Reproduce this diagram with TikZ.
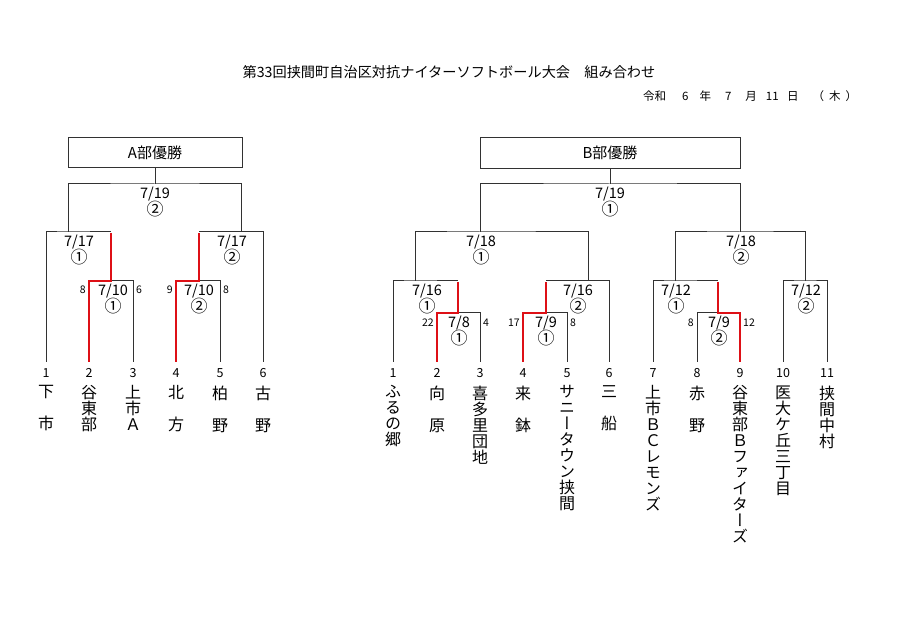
\documentclass[tikz,border=0pt]{standalone}
\usepackage{fontspec}
\setmainfont{Noto Sans CJK JP}
\newfontfamily\jpv[RawFeature=+vert]{Noto Sans CJK JP}
\usepackage{xcolor}
\usetikzlibrary{positioning}

\definecolor{winred}{RGB}{222,16,22}
\definecolor{linegray}{RGB}{50,50,50}

% field number, a bit larger than the date
\newcommand{\fieldno}[1]{\smash{\fontsize{17}{17}\selectfont #1}}

\begin{document}
\begin{tikzpicture}[
    x=1pt,
    y=-1pt,
    line/.style={
        draw=linegray,
        line width=1pt
    },
    win/.style={
        draw=winred,
        line width=2.8pt
    },
    title/.style={
        font=\fontsize{14.2}{16}\selectfont,
        inner sep=0pt
    },
    champ/.style={
        rectangle,
        draw=linegray,
        line width=1pt,
        font=\fontsize{15}{16}\selectfont
    },
    match/.style={
        align=center,
        font=\fontsize{14.5}{16.5}\selectfont,
        inner sep=0pt,
        anchor=north
    },
    score/.style={
        font=\fontsize{10.5}{11}\selectfont,
        inner sep=1pt
    },
    seed/.style={
        anchor=north,
        font=\fontsize{12.5}{14}\selectfont,
        text height=9pt,
        text depth=0pt,
        inner xsep=0pt,
        inner ysep=6.5pt
    },
    team/.style={
        align=center,
        font=\fontsize{16}{16}\selectfont\jpv,
        inner sep=0pt,
        anchor=north
    }
]
\useasboundingbox (0,0) rectangle (900,636);

% Title
\node [title] (head) at (449,72) {第33回挟間町自治区対抗ナイターソフトボール大会\quad 組み合わせ};
\node [title, anchor=west, font=\fontsize{11.5}{14}\selectfont] (day) at (643,96)
    {令和\hspace{16pt}6\hspace{11pt}年\hspace{14pt}7\hspace{14pt}月\hspace{9pt}11\hspace{8.5pt}日\hspace{14pt}（\hspace{5pt}木\hspace{5pt}）};

% Champion boxes
\node [champ, minimum width=174, minimum height=30] (boxa) at (155,153) {A部優勝};
\node [champ, minimum width=260, minimum height=31] (boxb) at (610,153) {B部優勝};

% A: teams
\node [seed] (a1) at (46,362) {1};
\node [seed] (a2) at (89,362) {2};
\node [seed] (a3) at (133,362) {3};
\node [seed] (a4) at (176,362) {4};
\node [seed] (a5) at (220,362) {5};
\node [seed] (a6) at (263,362) {6};
\node [team, below=1pt of a1] (a1n) {下\\　\\市};
\node [team, below=1pt of a2] (a2n) {谷\\東\\部};
\node [team, below=1pt of a3] (a3n) {上\\市\\Ａ};
\node [team, below=1pt of a4] (a4n) {北\\　\\方};
\node [team, below=1pt of a5] (a5n) {柏\\　\\野};
\node [team, below=1pt of a6] (a6n) {古\\　\\野};

% B: teams
\node [seed] (b1) at (393,362) {1};
\node [seed] (b2) at (437,362) {2};
\node [seed] (b3) at (480,362) {3};
\node [seed] (b4) at (523,362) {4};
\node [seed] (b5) at (567,362) {5};
\node [seed] (b6) at (609,362) {6};
\node [seed] (b7) at (653,362) {7};
\node [seed] (b8) at (697,362) {8};
\node [seed] (b9) at (740,362) {9};
\node [seed] (b10) at (783,362) {10};
\node [seed] (b11) at (827,362) {11};
\node [team, below=1pt of b1] (b1n) {ふ\\る\\の\\郷};
\node [team, below=1pt of b2] (b2n) {向\\　\\原};
\node [team, below=1pt of b3] (b3n) {喜\\多\\里\\団\\地};
\node [team, below=1pt of b4] (b4n) {来\\　\\鉢};
\node [team, below=1pt of b5] (b5n) {サ\\ニ\\ー\\タ\\ウ\\ン\\挟\\間};
\node [team, below=1pt of b6] (b6n) {三\\　\\船};
\node [team, below=1pt of b7] (b7n) {上\\市\\Ｂ\\Ｃ\\レ\\モ\\ン\\ズ};
\node [team, below=1pt of b8] (b8n) {赤\\　\\野};
\node [team, below=1pt of b9] (b9n) {谷\\東\\部\\Ｂ\\フ\\ァ\\イ\\タ\\ー\\ズ};
\node [team, below=1pt of b10] (b10n) {医\\大\\ケ\\丘\\三\\丁\\目};
\node [team, below=1pt of b11] (b11n) {挟\\間\\中\\村};

% Junctions
\coordinate (fa) at (155,184);
\coordinate (sa1) at (68,232);
\coordinate (sa2) at (241,232);
\coordinate (qa1) at (111,281);
\coordinate (qa2) at (199,281);
\coordinate (fb) at (610,184);
\coordinate (sb1) at (480,232);
\coordinate (sb2) at (740,232);
\coordinate (qb1) at (415,281);
\coordinate (qb2) at (588,281);
\coordinate (qb3) at (675,281);
\coordinate (qb4) at (805,281);
\coordinate (rb1) at (458,313);
\coordinate (rb2) at (546,313);
\coordinate (rb3) at (718,313);

% A: lines
\path [line] (boxa.south) -- (fa);
\path [line] (sa1) |- (fa) -| (sa2);
\path [line] (a1.north) |- (sa1) -- (sa1 -| qa1);
\path [line] (qa1) -| (a3.north);
\path [line] (qa2 |- sa2) -| (a6.north);
\path [line] (qa2) -| (a5.north);
\path [win] (a2.north) |- (qa1) -- ([yshift=-1]qa1 |- sa1);
\path [win] (a4.north) |- (qa2) -- ([yshift=-1]qa2 |- sa2);

% B: lines
\path [line] (boxb.south) -- (fb);
\path [line] (sb1) |- (fb) -| (sb2);
\path [line] (qb1) |- (sb1) -| (qb2);
\path [line] (qb3) |- (sb2) -| (qb4);
\path [line] (b1.north) |- (qb1) -- (qb1 -| rb1);
\path [line] (rb1) -| (b3.north);
\path [line] (rb2 |- qb2) -| (b6.north);
\path [line] (rb2) -| (b5.north);
\path [line] (b7.north) |- (qb3) -- (qb3 -| rb3);
\path [line] (rb3) -| (b8.north);
\path [line] (b10.north) |- (qb4) -| (b11.north);
\path [win] (b2.north) |- (rb1) -- ([yshift=-1]rb1 |- qb1);
\path [win] (b4.north) |- (rb2) -- ([yshift=-1]rb2 |- qb2);
\path [win] (b9.north) |- (rb3) -- ([yshift=-1]rb3 |- qb3);

% A: dates and fields
\node [match] (ma0) at (155,187) {7/19\\\fieldno{②}};
\node [match] (ma1) at (79,235) {7/17\\\fieldno{①}};
\node [match] (ma2) at (232,235) {7/17\\\fieldno{②}};
\node [match] (ma3) at (113,284) {7/10\\\fieldno{①}};
\node [match] (ma4) at (199,284) {7/10\\\fieldno{②}};
\node [score, anchor=east] (sc1) at (87,290) {8};
\node [score, anchor=west] (sc2) at (135,290) {6};
\node [score, anchor=east] (sc3) at (174,290) {9};
\node [score, anchor=west] (sc4) at (222,290) {8};

% B: dates and fields
\node [match] (mb0) at (610,187) {7/19\\\fieldno{①}};
\node [match] (mb1) at (481,235) {7/18\\\fieldno{①}};
\node [match] (mb2) at (741,235) {7/18\\\fieldno{②}};
\node [match] (mb3) at (427,284) {7/16\\\fieldno{①}};
\node [match] (mb4) at (578,284) {7/16\\\fieldno{②}};
\node [match] (mb5) at (676,284) {7/12\\\fieldno{①}};
\node [match] (mb6) at (806,284) {7/12\\\fieldno{②}};
\node [match] (mb7) at (459,316) {7/8\\\fieldno{①}};
\node [match] (mb8) at (546,316) {7/9\\\fieldno{①}};
\node [match] (mb9) at (719,316) {7/9\\\fieldno{②}};
\node [score, anchor=east] (sc5) at (435,323) {22};
\node [score, anchor=west] (sc6) at (482,323) {4};
\node [score, anchor=east] (sc7) at (521,323) {17};
\node [score, anchor=west] (sc8) at (569,323) {8};
\node [score, anchor=east] (sc9) at (695,323) {8};
\node [score, anchor=west] (sc10) at (742,323) {12};

\end{tikzpicture}
\end{document}
